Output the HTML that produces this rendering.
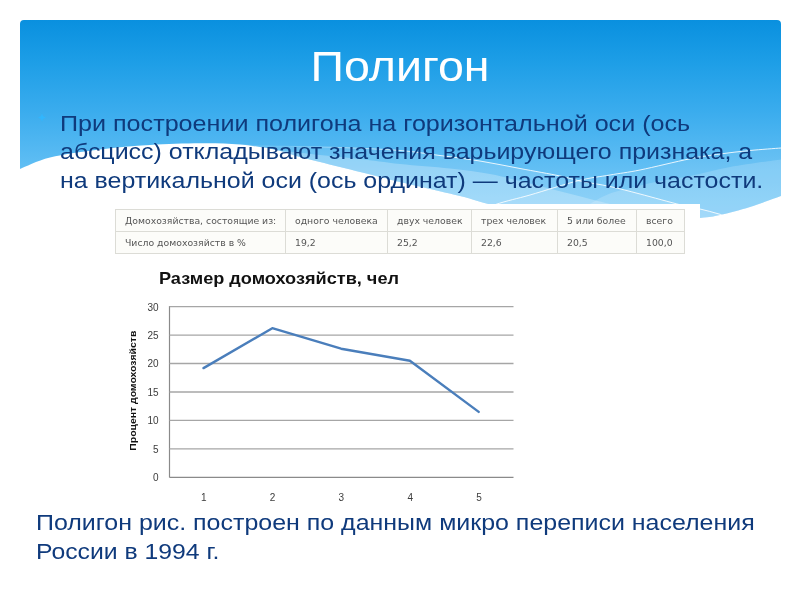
<!DOCTYPE html>
<html lang="ru">
<head>
<meta charset="utf-8">
<title>Полигон</title>
<style>
  html, body { margin: 0; padding: 0; }
  body { width: 800px; height: 600px; background: #fff; position: relative; overflow: hidden;
         font-family: "Liberation Sans", sans-serif; }
  #wave { position: absolute; left: 0; top: 0; width: 800px; height: 600px; }
  .title { position: absolute; left: 20px; width: 760px; top: 40.8px; text-align: center;
           font-size: 42px; line-height: 52px; color: #fff; transform: scaleX(1.108); transform-origin: 50% 0; }
  .txt { position: absolute; white-space: nowrap; color: #0f3a7c; font-size: 22px; line-height: 29px; transform-origin: 0 0; }
  .pic { position: absolute; left: 118px; top: 204px; width: 582px; height: 304px; background: #fff; }
  table.t { position: absolute; left: -3px; top: 5px; border-collapse: collapse; table-layout: fixed; width: 570px;
            font-family: "DejaVu Sans", "Liberation Sans", sans-serif; font-size: 9.3px; color: #555; background: #fcfcf9; }
  table.t td { border: 1px solid #dcdcd6; height: 21px; padding: 0 0 0 9px; white-space: nowrap; overflow: hidden; }
  .chart { position: absolute; left: 0; top: 0; }
</style>
</head>
<body>
<svg id="wave" viewBox="0 0 800 600">
  <defs>
    <linearGradient id="g" gradientUnits="userSpaceOnUse" x1="0" y1="20" x2="0" y2="225">
      <stop offset="0" stop-color="#0990df"/>
      <stop offset="0.22" stop-color="#1f9fe7"/>
      <stop offset="0.46" stop-color="#3cadee"/>
      <stop offset="0.73" stop-color="#62bff4"/>
      <stop offset="1" stop-color="#7ccbf8"/>
    </linearGradient>
    <linearGradient id="la" gradientUnits="userSpaceOnUse" x1="260" y1="0" x2="420" y2="0">
      <stop offset="0" stop-color="#fff" stop-opacity="0"/>
      <stop offset="1" stop-color="#fff" stop-opacity="0.85"/>
    </linearGradient>
    <clipPath id="cp"><path d="M20,24 Q20,20 24,20 L777,20 Q781,20 781,24 L781,196 C775.8,197.8 760.2,203.8 750.0,207.0 C739.8,210.2 728.3,213.2 720.0,215.0 C711.7,216.8 711.7,216.8 700.0,218.0 C688.3,219.2 666.7,221.3 650.0,222.0 C633.3,222.7 618.3,223.0 600.0,222.0 C581.7,221.0 558.0,218.8 540.0,216.0 C522.0,213.2 505.3,208.3 492.0,205.0 C478.7,201.7 475.3,199.8 460.0,196.0 C444.7,192.2 413.3,185.2 400.0,182.0 C386.7,178.8 390.0,179.5 380.0,177.0 C370.0,174.5 353.3,170.3 340.0,167.0 C326.7,163.7 310.7,159.8 300.0,157.0 C289.3,154.2 286.0,152.1 276.0,150.0 C266.0,147.9 252.7,145.6 240.0,144.5 C227.3,143.4 215.0,143.2 200.0,143.3 C185.0,143.4 166.7,144.0 150.0,145.0 C133.3,146.0 116.7,147.4 100.0,149.5 C83.3,151.6 63.3,154.2 50.0,157.5 C36.7,160.8 25.0,167.1 20.0,169.0 Z"/></clipPath>
  </defs>
  <path fill="url(#g)" d="M20,24 Q20,20 24,20 L777,20 Q781,20 781,24 L781,196 C775.8,197.8 760.2,203.8 750.0,207.0 C739.8,210.2 728.3,213.2 720.0,215.0 C711.7,216.8 711.7,216.8 700.0,218.0 C688.3,219.2 666.7,221.3 650.0,222.0 C633.3,222.7 618.3,223.0 600.0,222.0 C581.7,221.0 558.0,218.8 540.0,216.0 C522.0,213.2 505.3,208.3 492.0,205.0 C478.7,201.7 475.3,199.8 460.0,196.0 C444.7,192.2 413.3,185.2 400.0,182.0 C386.7,178.8 390.0,179.5 380.0,177.0 C370.0,174.5 353.3,170.3 340.0,167.0 C326.7,163.7 310.7,159.8 300.0,157.0 C289.3,154.2 286.0,152.1 276.0,150.0 C266.0,147.9 252.7,145.6 240.0,144.5 C227.3,143.4 215.0,143.2 200.0,143.3 C185.0,143.4 166.7,144.0 150.0,145.0 C133.3,146.0 116.7,147.4 100.0,149.5 C83.3,151.6 63.3,154.2 50.0,157.5 C36.7,160.8 25.0,167.1 20.0,169.0 Z"/>
  <g clip-path="url(#cp)">
    <path fill="#fff" fill-opacity="0.12" d="M180,143.5 C188.3,143.6 214.0,143.4 230.0,143.8 C246.0,144.2 257.7,145.4 276.0,146.0 C294.3,146.6 319.3,146.8 340.0,147.5 C360.7,148.2 383.3,149.2 400.0,150.5 C416.7,151.8 426.7,153.8 440.0,155.5 C453.3,157.2 466.7,158.8 480.0,161.0 C493.3,163.2 506.7,166.0 520.0,168.5 C533.3,171.0 550.0,173.9 560.0,176.0 C570.0,178.1 571.7,179.2 580.0,181.0 C588.3,182.8 600.0,184.3 610.0,186.5 C620.0,188.7 628.2,190.9 640.0,194.0 C651.8,197.1 671.0,202.5 681.0,205.0 C691.0,207.5 693.7,207.5 700.0,209.0 C706.3,210.5 712.3,212.0 719.0,214.0 C725.7,216.0 736.5,219.8 740.0,221.0 L740,240 L180,240 Z"/>
    <path fill="#fff" fill-opacity="0.25" d="M276,150 C283.3,150.8 306.0,153.5 320.0,155.0 C334.0,156.5 346.7,157.5 360.0,159.0 C373.3,160.5 385.0,162.4 400.0,164.0 C415.0,165.6 435.0,166.8 450.0,168.5 C465.0,170.2 478.3,171.9 490.0,174.0 C501.7,176.1 509.2,178.3 520.0,181.0 C530.8,183.7 543.3,187.0 555.0,190.0 C566.7,193.0 579.2,196.2 590.0,199.0 C600.8,201.8 608.3,203.5 620.0,206.5 C631.7,209.5 653.3,215.2 660.0,217.0 L660,240 L276,240 Z"/>
    <path fill="#fff" fill-opacity="0.07" d="M440,225 C449.0,221.7 479.0,210.0 494.0,205.0 C509.0,200.0 515.8,199.1 530.0,195.0 C544.2,190.9 565.7,183.8 579.0,180.5 C592.3,177.2 599.8,176.8 610.0,175.0 C620.2,173.2 626.7,172.7 640.0,170.0 C653.3,167.3 676.7,161.4 690.0,158.8 C703.3,156.1 710.0,155.4 720.0,154.0 C730.0,152.6 739.8,151.5 750.0,150.5 C760.2,149.5 775.8,148.4 781.0,148.0 L781,240 L440,240 Z"/>
    <path fill="#fff" fill-opacity="0.17" d="M560,225 C566.7,220.5 588.3,204.2 600.0,198.0 C611.7,191.8 620.0,190.8 630.0,188.0 C640.0,185.2 650.0,183.0 660.0,181.0 C670.0,179.0 678.3,178.3 690.0,176.0 C701.7,173.7 714.8,169.8 730.0,167.0 C745.2,164.2 772.5,160.7 781.0,159.4 L781,240 L560,240 Z"/>
    <path fill="none" stroke="url(#la)" stroke-width="1" d="M180,143.5 C188.3,143.6 214.0,143.4 230.0,143.8 C246.0,144.2 257.7,145.4 276.0,146.0 C294.3,146.6 319.3,146.8 340.0,147.5 C360.7,148.2 383.3,149.2 400.0,150.5 C416.7,151.8 426.7,153.8 440.0,155.5 C453.3,157.2 466.7,158.8 480.0,161.0 C493.3,163.2 506.7,166.0 520.0,168.5 C533.3,171.0 550.0,173.9 560.0,176.0 C570.0,178.1 571.7,179.2 580.0,181.0 C588.3,182.8 600.0,184.3 610.0,186.5 C620.0,188.7 628.2,190.9 640.0,194.0 C651.8,197.1 671.0,202.5 681.0,205.0 C691.0,207.5 693.7,207.5 700.0,209.0 C706.3,210.5 712.3,212.0 719.0,214.0 C725.7,216.0 736.5,219.8 740.0,221.0"/>
    <path fill="none" stroke="#fff" stroke-opacity="0.85" stroke-width="1" d="M440,225 C449.0,221.7 479.0,210.0 494.0,205.0 C509.0,200.0 515.8,199.1 530.0,195.0 C544.2,190.9 565.7,183.8 579.0,180.5 C592.3,177.2 599.8,176.8 610.0,175.0 C620.2,173.2 626.7,172.7 640.0,170.0 C653.3,167.3 676.7,161.4 690.0,158.8 C703.3,156.1 710.0,155.4 720.0,154.0 C730.0,152.6 739.8,151.5 750.0,150.5 C760.2,149.5 775.8,148.4 781.0,148.0"/>
  </g>
  <path fill="#31b6fd" d="M42,113.5 L43.2,116.3 L46,117.5 L43.2,118.7 L42,121.5 L40.8,118.7 L38,117.5 L40.8,116.3 Z"/>
</svg>

<div class="title">Полигон</div>

<div class="txt" style="left:59.5px; top:108.7px; transform:scaleX(1.1413);">При построении полигона на горизонтальной оси (ось</div>
<div class="txt" style="left:59.5px; top:137.1px; transform:scaleX(1.1343);">абсцисс) откладывают значения варьирующего признака, а</div>
<div class="txt" style="left:59.5px; top:165.7px; transform:scaleX(1.134);">на вертикальной оси (ось ординат) — частоты или частости.</div>

<div class="pic">
  <table class="t">
    <colgroup><col style="width:170px"><col style="width:102px"><col style="width:84px"><col style="width:86px"><col style="width:79px"><col style="width:48px"></colgroup>
    <tr><td>Домохозяйства, состоящие из:</td><td>одного человека</td><td>двух человек</td><td>трех человек</td><td>5 или более</td><td>всего</td></tr>
    <tr><td>Число домохозяйств в %</td><td>19,2</td><td>25,2</td><td>22,6</td><td>20,5</td><td>100,0</td></tr>
  </table>
  <svg class="chart" width="582" height="304" viewBox="118 204 582 304">
   <g font-family="Liberation Sans, sans-serif" font-size="10" fill="#3c3c3c">
    <line x1="169.5" x2="169.5" y1="306" y2="477.5" stroke="#8a8a8a" stroke-width="1.2"/>
    <line x1="169.5" x2="513.5" y1="477.3" y2="477.3" stroke="#8a8a8a" stroke-width="1.3"/>
    <text x="158.5" y="481.2" text-anchor="end">0</text>
    <line x1="169.5" x2="513.5" y1="448.9" y2="448.9" stroke="#a6a6a6" stroke-width="1.3"/>
    <text x="158.5" y="452.8" text-anchor="end">5</text>
    <line x1="169.5" x2="513.5" y1="420.4" y2="420.4" stroke="#a6a6a6" stroke-width="1.3"/>
    <text x="158.5" y="424.3" text-anchor="end">10</text>
    <line x1="169.5" x2="513.5" y1="392.0" y2="392.0" stroke="#a6a6a6" stroke-width="1.3"/>
    <text x="158.5" y="395.9" text-anchor="end">15</text>
    <line x1="169.5" x2="513.5" y1="363.5" y2="363.5" stroke="#a6a6a6" stroke-width="1.3"/>
    <text x="158.5" y="367.4" text-anchor="end">20</text>
    <line x1="169.5" x2="513.5" y1="335.1" y2="335.1" stroke="#a6a6a6" stroke-width="1.3"/>
    <text x="158.5" y="338.9" text-anchor="end">25</text>
    <line x1="169.5" x2="513.5" y1="306.6" y2="306.6" stroke="#a6a6a6" stroke-width="1.3"/>
    <text x="158.5" y="310.5" text-anchor="end">30</text>
    <text x="203.8" y="501" text-anchor="middle">1</text>
    <text x="272.6" y="501" text-anchor="middle">2</text>
    <text x="341.4" y="501" text-anchor="middle">3</text>
    <text x="410.2" y="501" text-anchor="middle">4</text>
    <text x="479.0" y="501" text-anchor="middle">5</text>
   </g>
   <text x="159" y="284.3" font-family="Liberation Sans, sans-serif" font-weight="bold" font-size="17" fill="#111" textLength="240" lengthAdjust="spacingAndGlyphs">Размер домохозяйств, чел</text>
   <text transform="translate(135.5,390.7) rotate(-90)" text-anchor="middle" font-family="Liberation Sans, sans-serif" font-weight="bold" font-size="8.5" fill="#111" textLength="120" lengthAdjust="spacingAndGlyphs">Процент домохозяйств</text>
   <polyline points="203.5,368.1 272.3,328.2 341.1,348.7 409.9,360.7 478.7,411.9" fill="none" stroke="#4a7ebb" stroke-width="2.4" stroke-linejoin="round" stroke-linecap="round"/>
  </svg>
</div>

<div class="txt" style="left:36px; top:508.2px; transform:scaleX(1.1345);">Полигон рис. построен по данным микро переписи населения</div>
<div class="txt" style="left:36px; top:537.4px; transform:scaleX(1.125);">России в 1994 г.</div>
</body>
</html>
